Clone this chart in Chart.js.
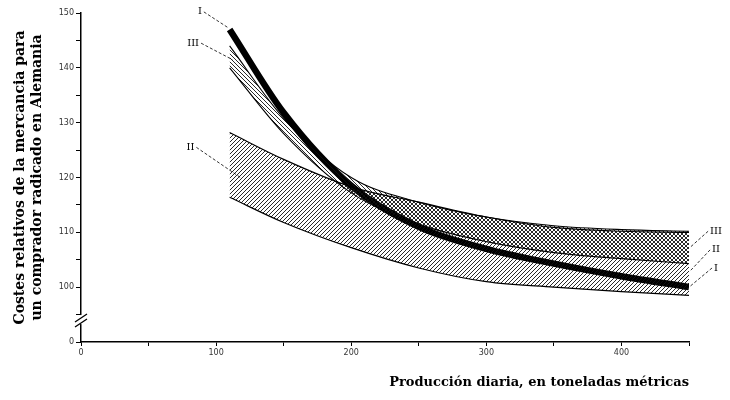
<!DOCTYPE html>
<html>
<head>
<meta charset="utf-8">
<script src="https://cdn.jsdelivr.net/npm/chart.js@4/dist/chart.umd.min.js"></script>
<style>
  html, body { margin: 0; padding: 0; background: #fff; }
  #wrap { width: 730px; height: 400px; }
</style>
</head>
<body>
<div id="wrap"><canvas id="costChart"></canvas></div>
<script>
// daily production, metric tons
const production = [110, 150, 200, 250, 300, 350, 400, 450];

// relative costs for a buyer located in Germany
const curveI = [147, 131.8, 118.5, 111, 107, 104.3, 102, 100];
const bandIITop = [128.2, 123.3, 118.3, 115.5, 112.8, 110.9, 110.2, 110];
const bandIIBottom = [116.4, 111.8, 107.2, 103.5, 101, 100, 99.2, 98.5];
const bandIIITop = [144, 130.8, 120, 115.5, 112.8, 111.2, 110.5, 110.2];
const bandIIIBottom = [140, 128, 117.2, 111.5, 108.3, 106.3, 105.2, 104.3];

const xTicks = [0, 100, 200, 300, 400];
const yTicks = [100, 110, 120, 130, 140, 150];

// labels next to the curves: [text, x value, y value, leader end x, leader end y]
const curveLabels = [
  ['I', 88, 150.2, 109, 147.3],
  ['III', 83, 144.5, 112, 141.5],
  ['II', 81, 125.5, 118, 120],
  ['III', 470, 110.2, 451, 107.3],
  ['II', 470, 106.8, 451, 103],
  ['I', 470, 103.5, 451, 100.2]
];

function hatch(dir) {
  const s = 4;
  const c = document.createElement('canvas');
  c.width = s; c.height = s;
  const g = c.getContext('2d');
  g.strokeStyle = '#111';
  g.lineWidth = 0.9;
  g.beginPath();
  if (dir > 0) {
    g.moveTo(0, s); g.lineTo(s, 0);
    g.moveTo(-1, 1); g.lineTo(1, -1);
    g.moveTo(s - 1, s + 1); g.lineTo(s + 1, s - 1);
  } else {
    g.moveTo(0, 0); g.lineTo(s, s);
    g.moveTo(-1, s - 1); g.lineTo(1, s + 1);
    g.moveTo(s - 1, -1); g.lineTo(s + 1, 1);
  }
  g.stroke();
  return g.createPattern(c, 'repeat');
}

const toPoints = arr => arr.map((v, i) => ({ x: production[i], y: v }));

const extras = {
  id: 'extras',
  afterDraw(chart) {
    const ctx = chart.ctx;
    const xs = chart.scales.x, ys = chart.scales.y;
    // axis break
    const ax = xs.left;
    const yb = ys.getPixelForValue(94);
    ctx.save();
    ctx.fillStyle = '#fff';
    ctx.fillRect(ax - 3, yb - 5, 6, 9);
    ctx.strokeStyle = '#000';
    ctx.lineWidth = 1.3;
    ctx.beginPath();
    ctx.moveTo(ax - 6, yb + 2); ctx.lineTo(ax + 6, yb - 6);
    ctx.moveTo(ax - 6, yb + 7); ctx.lineTo(ax + 6, yb - 1);
    ctx.stroke();
    // curve labels
    ctx.font = '10px "DejaVu Serif"';
    ctx.fillStyle = '#000';
    ctx.textAlign = 'center';
    ctx.textBaseline = 'middle';
    ctx.lineWidth = 0.8;
    ctx.setLineDash([3, 2]);
    curveLabels.forEach(([t, lx, ly, ex, ey]) => {
      const px = xs.getPixelForValue(lx), py = ys.getPixelForValue(ly);
      ctx.fillText(t, px, py);
      const w = ctx.measureText(t).width / 2 + 2;
      ctx.beginPath();
      const sx = ex > lx ? px + w : px - w;
      ctx.moveTo(sx, py);
      ctx.lineTo(xs.getPixelForValue(ex), ys.getPixelForValue(ey));
      ctx.stroke();
    });
    ctx.restore();
  }
};

const line = (data, width, fill, bg) => ({
  data: toPoints(data),
  borderColor: '#000',
  borderWidth: width,
  pointRadius: 0,
  cubicInterpolationMode: 'monotone',
  fill: fill,
  backgroundColor: bg || 'transparent'
});

new Chart(document.getElementById('costChart'), {
  type: 'line',
  data: {
    datasets: [
      line(bandIIBottom, 1.2, false),
      line(bandIITop, 1.2, '-1', hatch(1)),
      line(bandIIIBottom, 1.1, false),
      line(bandIIITop, 1.1, '-1', hatch(-1)),
      line(curveI, 6.5, false)
    ]
  },
  options: {
    responsive: true,
    maintainAspectRatio: false,
    animation: false,
    layout: { padding: { top: 13, right: 41, bottom: 0, left: 0 } },
    plugins: { legend: { display: false }, tooltip: { enabled: false } },
    scales: {
      x: {
        type: 'linear',
        min: 0,
        max: 450,
        afterBuildTicks: s => { s.ticks = [0, 50, 100, 150, 200, 250, 300, 350, 400, 450].map(v => ({ value: v })); },
        afterFit: s => { s.height = 58; },
        border: { display: true, color: '#000', width: 1.5 },
        grid: { drawOnChartArea: false, tickLength: 4, color: '#000' },
        ticks: {
          autoSkip: false,
          maxRotation: 0,
          padding: 2,
          color: '#333',
          font: { family: 'DejaVu Sans', size: 8 },
          callback: v => xTicks.includes(v) ? String(v) : ''
        },
        title: {
          display: true,
          align: 'end',
          text: 'Producción diaria, en toneladas métricas',
          color: '#000',
          font: { family: 'DejaVu Serif', size: 13, weight: 'bold' },
          padding: { top: 12, bottom: 10 }
        }
      },
      y: {
        min: 90,
        max: 150,
        afterBuildTicks: s => {
          const t = [];
          for (let v = 90; v <= 150; v += 5) t.push({ value: v });
          s.ticks = t;
        },
        afterFit: s => { s.width = 81; },
        border: { display: true, color: '#000', width: 1.5 },
        grid: { drawOnChartArea: false, tickLength: 5, color: '#000' },
        ticks: {
          autoSkip: false,
          padding: 2,
          color: '#333',
          font: { family: 'DejaVu Sans', size: 8 },
          callback: v => v === 90 ? '0' : (yTicks.includes(v) ? String(v) : '')
        },
        title: {
          display: true,
          text: ['Costes relativos de la mercancia para', 'un comprador radicado en Alemania'],
          color: '#000',
          font: { family: 'DejaVu Serif', size: 14, weight: 'bold' },
          padding: { top: 12, bottom: 4 }
        }
      }
    }
  },
  plugins: [extras]
});
</script>
</body>
</html>
